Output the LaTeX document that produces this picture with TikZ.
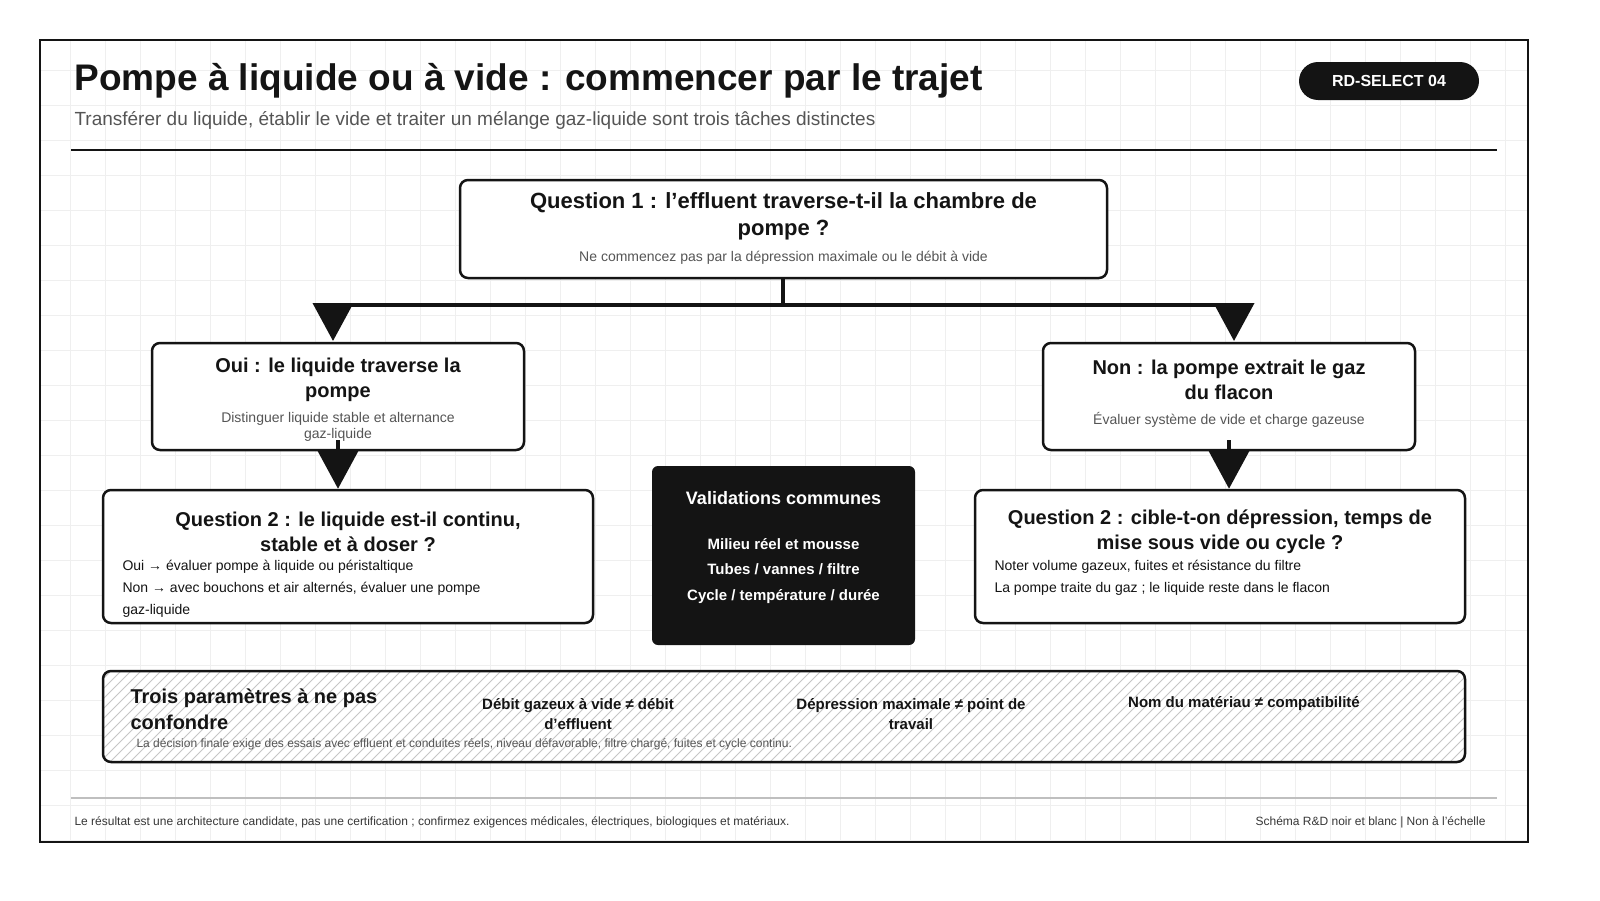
\documentclass[tikz,border=0pt]{standalone}
\usepackage{fontspec}
\setmainfont{Liberation Sans}
\usetikzlibrary{arrows.meta}
\definecolor{ink}{HTML}{141414}
\definecolor{subgray}{HTML}{555555}
\definecolor{gridgray}{HTML}{EFEFEF}
\newcommand{\fs}[1]{\fontsize{#1}{\dimexpr#1pt*5/4\relax}\selectfont}
\tikzset{
  box/.style={draw=ink, line width=2.5pt, rounded corners=8pt, fill=white},
  ttl/.style={font=\bfseries\fontsize{20}{25}\selectfont, text=ink, align=center},
  sub/.style={font=\fontsize{14}{16}\selectfont, text=subgray, align=center},
  item/.style={font=\fontsize{14}{22}\selectfont, text=ink, align=left, anchor=north west},
  flow/.style={line width=4pt, draw=ink, -{Triangle[width=40pt,length=38pt]}}
}
\begin{document}
\begin{tikzpicture}[x=1pt,y=-1pt]
\fill[white] (0,0) rectangle (1600,900);
% grid
\draw[gridgray, line width=0.8pt] (40,40) grid[step=35pt] (1528,842);
\draw[ink, line width=2pt] (40,40) rectangle (1528,842);
% header
\node[anchor=base west, font=\bfseries\fs{37}, text=ink] (title) at (71,90) {Pompe à liquide ou à vide : commencer par le trajet};
\node[anchor=base west, font=\fs{19}, text=subgray] (subtitle) at (71,125) {Transférer du liquide, établir le vide et traiter un mélange gaz-liquide sont trois tâches distinctes};
\node[fill=ink, rounded corners=19pt, minimum width=180pt, minimum height=38pt, text=white, font=\bfseries\fs{16}] (badge) at (1389,81) {RD-SELECT 04};
\draw[ink, line width=2pt] (71,150) -- (1497,150);
% question 1
\node[box, minimum width=647pt, minimum height=98pt] (q1) at (783.5,229) {};
\node[ttl, font=\bfseries\fontsize{22}{27}\selectfont] (q1t) at (783.5,216) {Question 1 : l’effluent traverse-t-il la chambre de\\pompe ?};
\node[sub] (q1s) at (783.5,258) {Ne commencez pas par la dépression maximale ou le débit à vide};
% branches
\coordinate (fork) at (783,305);
\coordinate (forkl) at (333,305);
\coordinate (forkr) at (1234,305);
\draw[ink, line width=4pt] (q1.south -| fork) -- (fork);
\draw[ink, line width=4pt] (forkl) -- (forkr);
\node[box, minimum width=372pt, minimum height=107pt] (oui) at (338,396.5) {};
\node[ttl] (ouit) at (338,380) {Oui : le liquide traverse la\\pompe};
\node[sub] (ouis) at (338,427) {Distinguer liquide stable et alternance\\gaz-liquide};
\node[box, minimum width=372pt, minimum height=107pt] (non) at (1229,396.5) {};
\node[ttl] (nont) at (1229,380) {Non : la pompe extrait le gaz\\du flacon};
\node[sub] (nons) at (1229,420) {Évaluer système de vide et charge gazeuse};
\draw[flow] (forkl) -- ++(0,36);
\draw[flow] (forkr) -- ++(0,36);
% question 2
\node[box, minimum width=490pt, minimum height=133pt] (q2l) at (348,556.5) {};
\node[ttl] (q2lt) at (348,532) {Question 2 : le liquide est-il continu,\\stable et à doser ?};
\node[item] (q2li) at (119,557) {Oui → évaluer pompe à liquide ou péristaltique\\Non → avec bouchons et air alternés, évaluer une pompe\\gaz-liquide};
\node[box, minimum width=490pt, minimum height=133pt] (q2r) at (1220,556.5) {};
\node[ttl] (q2rt) at (1220,532) {Question 2 : cible-t-on dépression, temps de\\mise sous vide ou cycle ?};
\node[item] (q2ri) at (991,557) {Noter volume gazeux, fuites et résistance du filtre\\La pompe traite du gaz ; le liquide reste dans le flacon};
\draw[flow] (338,440) -- (q2l.north -| 338,0);
\draw[flow] (1229,440) -- (q2r.north -| 1229,0);
% validations
\node[fill=ink, rounded corners=6pt, minimum width=263pt, minimum height=179pt] (valid) at (783.5,555.5) {};
\node[font=\bfseries\fs{18}, text=white] (validt) at (783.5,498) {Validations communes};
\node[font=\bfseries\fontsize{15}{25.5}\selectfont, text=white, align=center] (validi) at (783.5,571) {Milieu réel et mousse\\Tubes / vannes / filtre\\Cycle / température / durée};
% parameters
\begin{scope}
\clip[rounded corners=8pt] (103,671) rectangle (1465,762);
\fill[white] (103,671) rectangle (1465,762);
\foreach \i in {0,...,145} \draw[gray!45, line width=0.8pt] (20+\i*10,762) -- ++(91,-91);
\end{scope}
\node[draw=ink, line width=2.5pt, rounded corners=8pt, minimum width=1362pt, minimum height=91pt] (params) at (784,716.5) {};
\node[ttl, align=left, anchor=north west, font=\bfseries\fontsize{20}{26}\selectfont] (paramt) at (127,685) {Trois paramètres à ne pas\\confondre};
\node[ttl, font=\bfseries\fontsize{15}{20}\selectfont] (p1) at (578,714) {Débit gazeux à vide ≠ débit\\d’effluent};
\node[ttl, font=\bfseries\fontsize{15}{20}\selectfont] (p2) at (911,714) {Dépression maximale ≠ point de\\travail};
\node[ttl, font=\bfseries\fontsize{15}{20}\selectfont] (p3) at (1244,704) {Nom du matériau ≠ compatibilité};
\node[anchor=base west, font=\fs{12}, text=subgray] (pnote) at (133,747) {La décision finale exige des essais avec effluent et conduites réels, niveau défavorable, filtre chargé, fuites et cycle continu.};
% footer
\draw[gray!50, line width=1.5pt] (71,798) -- (1497,798);
\node[anchor=base west, font=\fs{12}, text=ink!85] (footl) at (71,825) {Le résultat est une architecture candidate, pas une certification ; confirmez exigences médicales, électriques, biologiques et matériaux.};
\node[anchor=base east, font=\fs{12}, text=ink!85] (footr) at (1489,825) {Schéma R\&D noir et blanc | Non à l’échelle};
\pgfresetboundingbox
\useasboundingbox (0,0) rectangle (1600,900);
\end{tikzpicture}
\end{document}
